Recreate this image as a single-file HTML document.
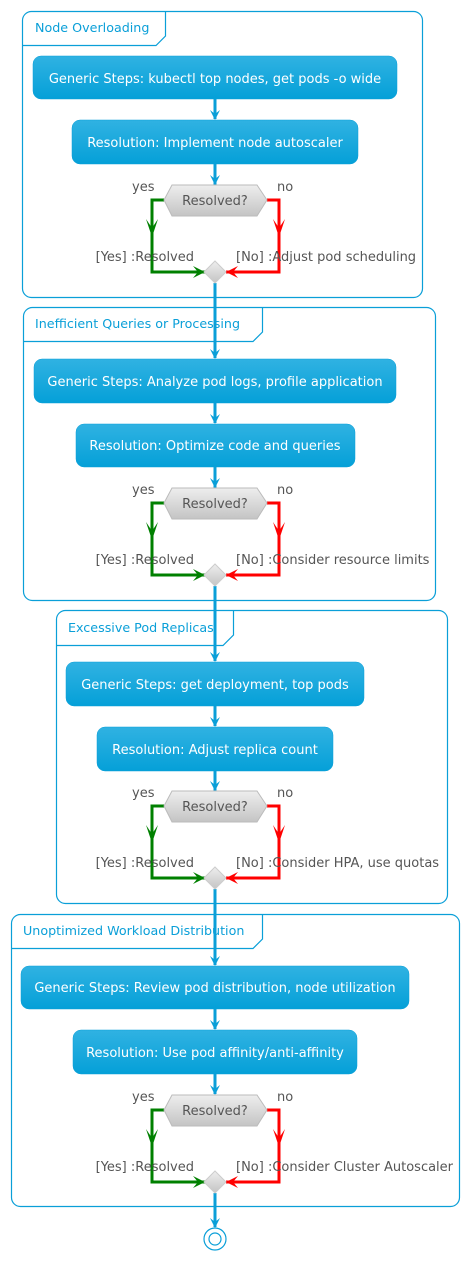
<!DOCTYPE html>
<html><head><meta charset="utf-8"><style>
html,body{margin:0;padding:0;background:#fff;}
svg{display:block;}
text{font-family:"DejaVu Sans","Liberation Sans",sans-serif;}
.t{fill:#0a9fd8;font-size:12.7px;}
.b{fill:#fff;font-size:13px;text-anchor:middle;}
.l{fill:#555;font-size:13px;}
.q{fill:#555;font-size:13px;text-anchor:middle;}
</style></head><body>
<svg width="469" height="1261" viewBox="0 0 469 1261" xmlns="http://www.w3.org/2000/svg">
<defs>
<linearGradient id="g" x1="0" y1="0" x2="0" y2="1"><stop offset="0" stop-color="#30b2e2"/><stop offset="1" stop-color="#05a0d8"/></linearGradient>
<linearGradient id="h" x1="0" y1="0" x2="0" y2="1"><stop offset="0" stop-color="#eeeeee"/><stop offset="1" stop-color="#c4c4c4"/></linearGradient>
<g id="dec">
  <polyline points="164,200 152,200 152,272 205,272" fill="none" stroke="#008000" stroke-width="3"/>
  <polygon points="146,219 152,237 158,219 152,228" fill="#008000"/>
  <polygon points="193,266 205,272 193,278 198,272" fill="#008000"/>
  <polyline points="267,200 279,200 279,272 226,272" fill="none" stroke="#ff0000" stroke-width="3"/>
  <polygon points="273,219 279,237 285,219 279,228" fill="#ff0000"/>
  <polygon points="238,266 226,272 238,278 233,272" fill="#ff0000"/>
  <polygon points="164,200 172,185 257,185 267,200 257,216 172,216" fill="url(#h)" stroke="#bbb" stroke-width="1"/>
  <text class="q" x="215" y="205">Resolved?</text>
  <text class="l" x="132" y="191">yes</text>
  <text class="l" x="277" y="191">no</text>
  <polygon points="215,261 226,272 215,283 204,272" fill="url(#h)" stroke="#ccc" stroke-width="1"/>
  <text class="l" x="194" y="261" text-anchor="end">[Yes] :Resolved</text>
</g>
</defs>
<g fill="none" stroke="#0a9fd8" stroke-width="1.2">
  <rect x="22.5" y="11.5" width="400" height="286" rx="9"/>
  <path d="M22.5,45.5 H156 L165.5,36 V11.5"/>
  <rect x="23.5" y="307.5" width="412" height="293" rx="9"/>
  <path d="M23.5,341.5 H253 L262.5,332 V307.5"/>
  <rect x="56.5" y="610.5" width="391" height="293" rx="9"/>
  <path d="M56.5,645.5 H223 L233.5,635 V610.5"/>
  <rect x="11.5" y="914.5" width="448" height="292" rx="9"/>
  <path d="M11.5,948.5 H253 L262.5,939 V914.5"/>
</g>
<text class="t" x="35" y="32">Node Overloading</text>
<text class="t" x="35" y="328">Inefficient Queries or Processing</text>
<text class="t" x="68" y="632">Excessive Pod Replicas</text>
<text class="t" x="23" y="935">Unoptimized Workload Distribution</text>
<g stroke="#0a9fd8" stroke-width="3">
  <line x1="215" y1="99" x2="215" y2="119"/>
  <line x1="215" y1="164" x2="215" y2="185"/>
  <line x1="215" y1="283" x2="215" y2="358"/>
  <line x1="215" y1="403" x2="215" y2="423"/>
  <line x1="215" y1="467" x2="215" y2="488"/>
  <line x1="215" y1="586" x2="215" y2="661"/>
  <line x1="215" y1="706" x2="215" y2="726"/>
  <line x1="215" y1="771" x2="215" y2="791"/>
  <line x1="215" y1="889" x2="215" y2="965"/>
  <line x1="215" y1="1009" x2="215" y2="1029"/>
  <line x1="215" y1="1074" x2="215" y2="1094"/>
  <line x1="215" y1="1193" x2="215" y2="1227"/>
</g>
<g fill="#0a9fd8">
  <polygon points="210,110 215,120 220,110 215,114"/>
  <polygon points="210,175 215,185 220,175 215,179"/>
  <polygon points="210,349 215,359 220,349 215,353"/>
  <polygon points="210,414 215,424 220,414 215,418"/>
  <polygon points="210,478 215,488 220,478 215,482"/>
  <polygon points="210,652 215,662 220,652 215,656"/>
  <polygon points="210,717 215,727 220,717 215,721"/>
  <polygon points="210,781 215,791 220,781 215,785"/>
  <polygon points="210,956 215,966 220,956 215,960"/>
  <polygon points="210,1020 215,1030 220,1020 215,1024"/>
  <polygon points="210,1085 215,1095 220,1085 215,1089"/>
  <polygon points="210,1218 215,1228 220,1218 215,1222"/>
</g>
<g fill="url(#g)" stroke="#0a9fd8" stroke-width="0.5">
  <rect x="33" y="56" width="364" height="43" rx="8"/>
  <rect x="72" y="120" width="286" height="44" rx="8"/>
  <rect x="34" y="359" width="362" height="44" rx="8"/>
  <rect x="76" y="424" width="279" height="43" rx="8"/>
  <rect x="66" y="662" width="298" height="44" rx="8"/>
  <rect x="97" y="727" width="236" height="44" rx="8"/>
  <rect x="21" y="966" width="388" height="43" rx="8"/>
  <rect x="73" y="1030" width="284" height="44" rx="8"/>
</g>
<text class="b" x="215" y="83">Generic Steps: kubectl top nodes, get pods -o wide</text>
<text class="b" x="215" y="147">Resolution: Implement node autoscaler</text>
<text class="b" x="215" y="386">Generic Steps: Analyze pod logs, profile application</text>
<text class="b" x="215" y="450">Resolution: Optimize code and queries</text>
<text class="b" x="215" y="689">Generic Steps: get deployment, top pods</text>
<text class="b" x="215" y="754">Resolution: Adjust replica count</text>
<text class="b" x="215" y="992">Generic Steps: Review pod distribution, node utilization</text>
<text class="b" x="215" y="1057">Resolution: Use pod affinity/anti-affinity</text>
<use href="#dec"/>
<text class="l" x="236" y="261">[No] :Adjust pod scheduling</text>
<g transform="translate(0,303)"><use href="#dec"/><text class="l" x="236" y="261">[No] :Consider resource limits</text></g>
<g transform="translate(0,606)"><use href="#dec"/><text class="l" x="236" y="261">[No] :Consider HPA, use quotas</text></g>
<g transform="translate(0,910)"><use href="#dec"/><text class="l" x="236" y="261">[No] :Consider Cluster Autoscaler</text></g>
<circle cx="215" cy="1239" r="11" fill="#fff" stroke="#0a9fd8" stroke-width="1.2"/>
<circle cx="215" cy="1239" r="6" fill="#fff" stroke="#0a9fd8" stroke-width="1.2"/>
</svg>
</body></html>
